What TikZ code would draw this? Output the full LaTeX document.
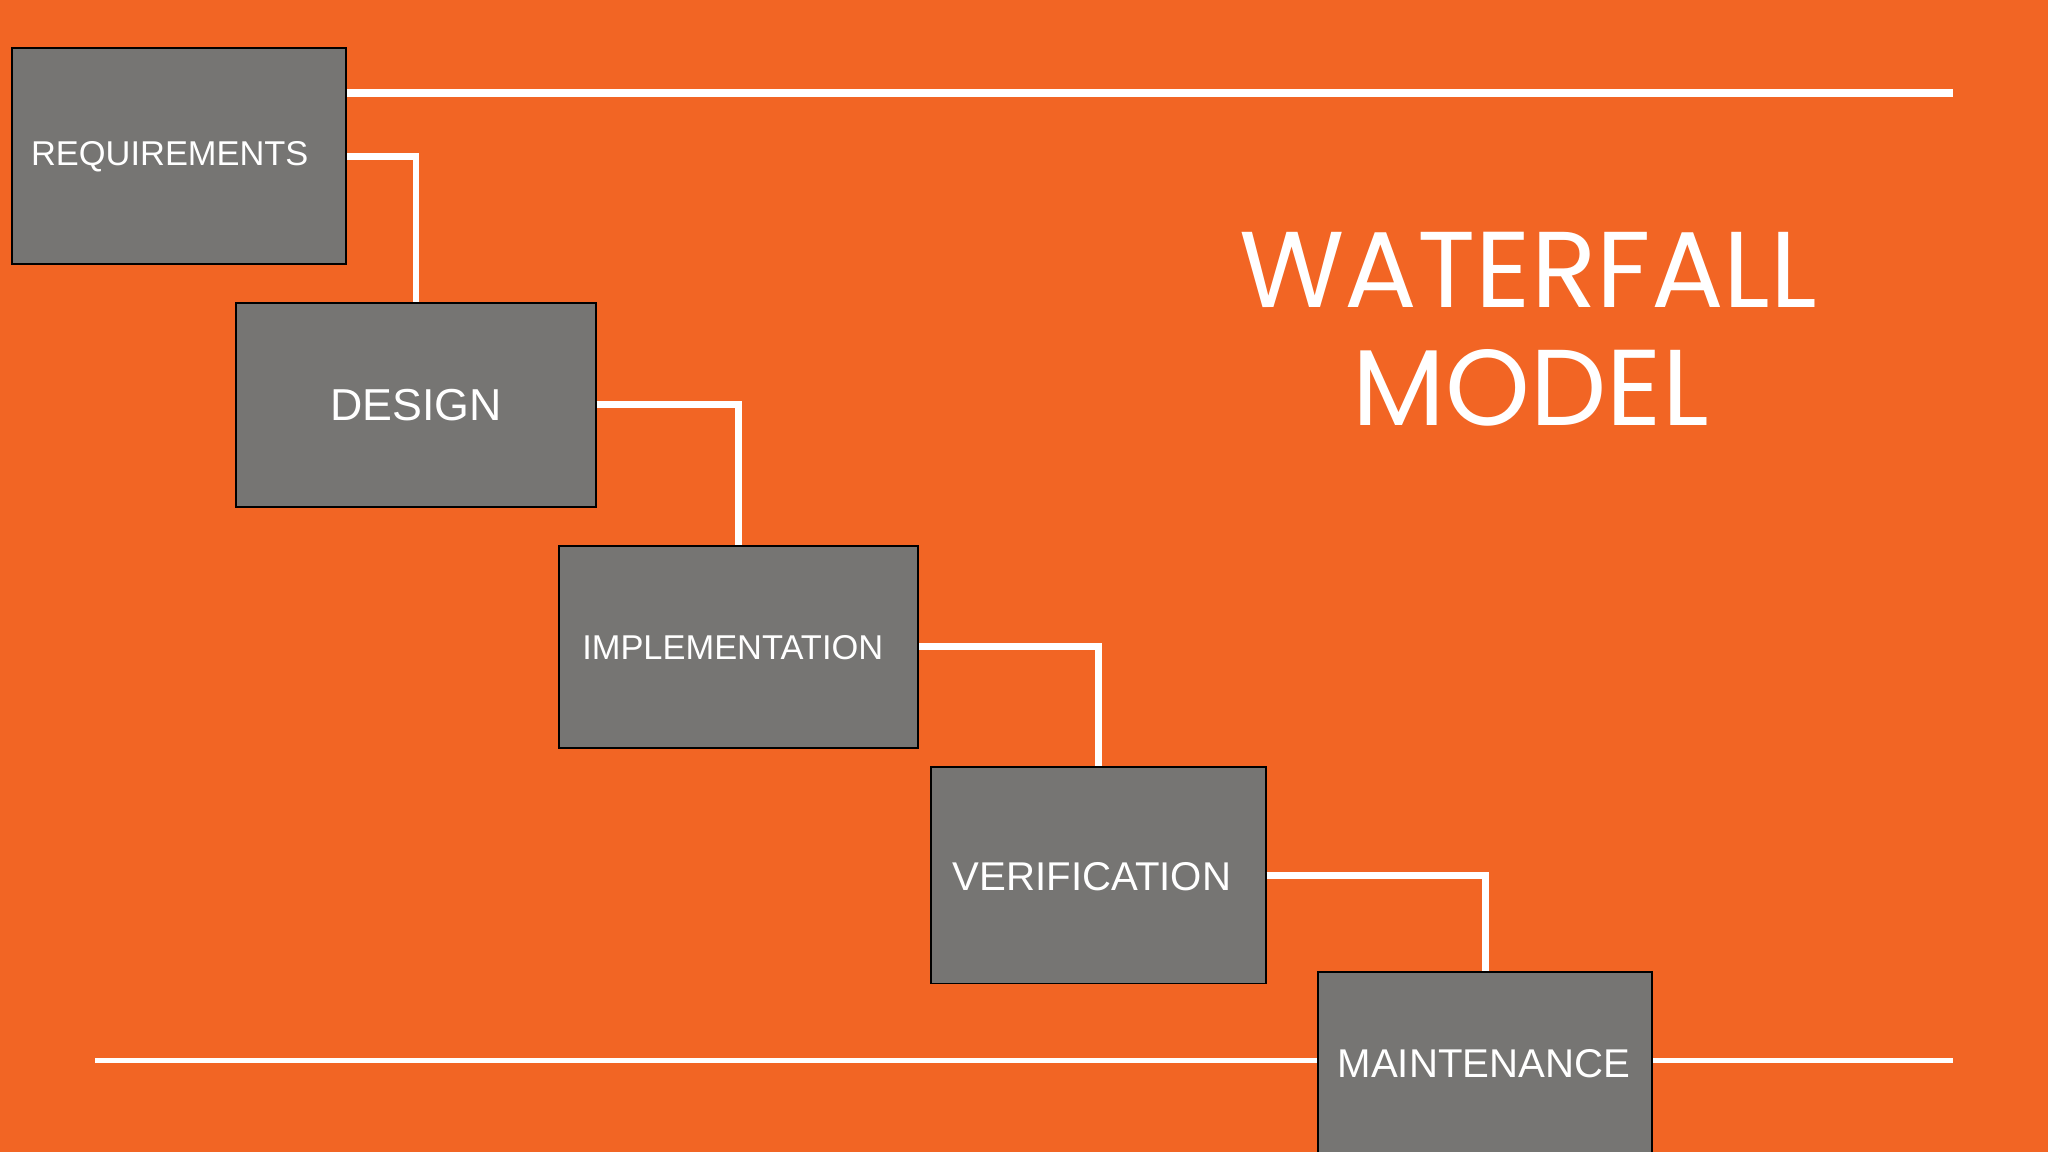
\documentclass[tikz,border=0pt]{standalone}
\usepackage{fontspec}
\setmainfont{Liberation Sans}
\newfontfamily\titlefont{Poppins}
\definecolor{bg}{HTML}{F26524}
\definecolor{boxg}{HTML}{767573}
\begin{document}
\begin{tikzpicture}[x=0.02cm,y=-0.02cm,
  stage/.style={draw=black,line width=0.8pt,fill=boxg,text=white},
  conn/.style={draw=white,line width=3pt},
  rule/.style={draw=white}]
\fill[bg] (0,0) rectangle (1568,882);
\useasboundingbox (0,0) rectangle (1568,882);
\draw[rule,line width=3.5pt] (265,71) -- (1495,71);
\draw[rule,line width=2.2pt] (73,812) -- (1495,812);
\node[stage,minimum width=256*0.02cm,minimum height=165*0.02cm] (req) at (137,119.5) {};
\node[text=white] (reqt) at (130,120) {\fontsize{15}{17}\selectfont REQUIREMENTS};
\node[stage,minimum width=275*0.02cm,minimum height=156*0.02cm] (des) at (318.5,310) {\fontsize{19.5}{22}\selectfont DESIGN};
\node[stage,minimum width=275*0.02cm,minimum height=155*0.02cm] (imp) at (565.5,495.5) {};
\node[text=white] (impt) at (561,496) {\fontsize{15}{17}\selectfont IMPLEMENTATION};
\node[stage,minimum width=256*0.02cm,minimum height=166*0.02cm] (ver) at (841,670) {};
\node[text=white] (vert) at (836,671) {\fontsize{17.5}{19}\selectfont VERIFICATION};
\node[stage,minimum width=256*0.02cm,minimum height=150*0.02cm] (mai) at (1137,819) {};
\node[text=white] (mait) at (1136,814) {\fontsize{17.5}{19}\selectfont MAINTENANCE};
\draw[conn] (req.east |- 0,120) -| (des.north);
\draw[conn] (des.east) -| (imp.north);
\draw[conn] (imp.east |- 0,495) -| (ver.north);
\draw[conn] (ver.east) -| (mai.north);
\node[text=white] (title1) at (1170,207) {\titlefont\fontsize{47}{52}\selectfont WATERFALL};
\node[text=white] (title2) at (1172,297) {\titlefont\fontsize{47}{52}\selectfont MODEL};
\end{tikzpicture}
\end{document}
